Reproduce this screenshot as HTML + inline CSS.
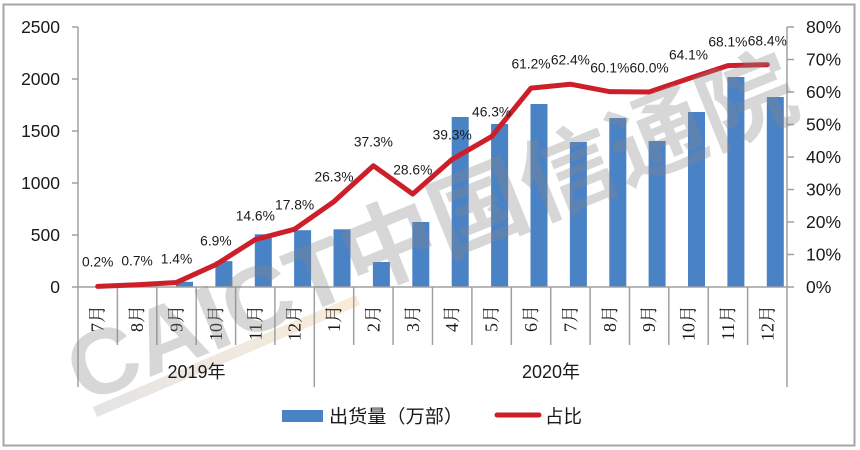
<!DOCTYPE html>
<html><head><meta charset="utf-8"><style>
html,body{margin:0;padding:0;background:#fff;}
svg{display:block;}
</style></head><body>
<svg width="860" height="450" viewBox="0 0 860 450" xmlns="http://www.w3.org/2000/svg">
<defs>
<linearGradient id="ul" x1="0" y1="0" x2="1" y2="0">
<stop offset="0" stop-color="#cfcfcf"/>
<stop offset="0.6" stop-color="#e8d8c4"/>
<stop offset="1" stop-color="#f6dcb8"/>
</linearGradient>
</defs>
<rect x="0" y="0" width="860" height="450" fill="#fff"/>
<rect x="3.5" y="4.5" width="851" height="441" fill="#fff" stroke="#a6a6a6" stroke-width="2"/>

<!-- watermark underline -->
<line x1="95" y1="412" x2="358" y2="300" stroke="url(#ul)" stroke-width="11" opacity="0.55"/>

<!-- bars -->
<g fill="#4a82c6">
<rect x="97.2" y="286.6" width="17" height="0.4"/>
<rect x="136.6" y="286.4" width="17" height="0.6"/>
<rect x="176.0" y="281.8" width="17" height="5.2"/>
<rect x="215.4" y="261.1" width="17" height="25.9"/>
<rect x="254.8" y="234.3" width="17" height="52.7"/>
<rect x="294.1" y="230.2" width="17" height="56.8"/>
<rect x="333.5" y="229.3" width="17" height="57.7"/>
<rect x="372.9" y="262.0" width="17" height="25.0"/>
<rect x="412.3" y="222.0" width="17" height="65.0"/>
<rect x="451.7" y="117.0" width="17" height="170.0"/>
<rect x="491.1" y="124.0" width="17" height="163.0"/>
<rect x="530.5" y="104.0" width="17" height="183.0"/>
<rect x="569.9" y="142.0" width="17" height="145.0"/>
<rect x="609.3" y="118.0" width="17" height="169.0"/>
<rect x="648.6" y="141.0" width="17" height="146.0"/>
<rect x="688.0" y="112.0" width="17" height="175.0"/>
<rect x="727.4" y="77.0" width="17" height="210.0"/>
<rect x="766.8" y="97.0" width="17" height="190.0"/>
</g>

<!-- axes -->
<g stroke="#a0a0a0" stroke-width="1.5" fill="none">
<line x1="78" y1="27" x2="78" y2="287"/>
<line x1="72" y1="27" x2="78" y2="27"/>
<line x1="72" y1="79" x2="78" y2="79"/>
<line x1="72" y1="131" x2="78" y2="131"/>
<line x1="72" y1="183" x2="78" y2="183"/>
<line x1="72" y1="235" x2="78" y2="235"/>
<line x1="72" y1="287" x2="78" y2="287"/>
<line x1="787" y1="27" x2="787" y2="287"/>
<line x1="787" y1="27" x2="794" y2="27"/>
<line x1="787" y1="59.5" x2="794" y2="59.5"/>
<line x1="787" y1="92" x2="794" y2="92"/>
<line x1="787" y1="124.5" x2="794" y2="124.5"/>
<line x1="787" y1="157" x2="794" y2="157"/>
<line x1="787" y1="189.5" x2="794" y2="189.5"/>
<line x1="787" y1="222" x2="794" y2="222"/>
<line x1="787" y1="254.5" x2="794" y2="254.5"/>
<line x1="787" y1="287" x2="794" y2="287"/>
<line x1="78" y1="287" x2="787" y2="287"/>
<line x1="78" y1="287" x2="78" y2="387"/>
<line x1="117.4" y1="287" x2="117.4" y2="345"/>
<line x1="156.8" y1="287" x2="156.8" y2="345"/>
<line x1="196.2" y1="287" x2="196.2" y2="345"/>
<line x1="235.6" y1="287" x2="235.6" y2="345"/>
<line x1="274.9" y1="287" x2="274.9" y2="345"/>
<line x1="314.3" y1="287" x2="314.3" y2="387"/>
<line x1="353.7" y1="287" x2="353.7" y2="345"/>
<line x1="393.1" y1="287" x2="393.1" y2="345"/>
<line x1="432.5" y1="287" x2="432.5" y2="345"/>
<line x1="471.9" y1="287" x2="471.9" y2="345"/>
<line x1="511.3" y1="287" x2="511.3" y2="345"/>
<line x1="550.7" y1="287" x2="550.7" y2="345"/>
<line x1="590.1" y1="287" x2="590.1" y2="345"/>
<line x1="629.5" y1="287" x2="629.5" y2="345"/>
<line x1="668.8" y1="287" x2="668.8" y2="345"/>
<line x1="708.2" y1="287" x2="708.2" y2="345"/>
<line x1="747.6" y1="287" x2="747.6" y2="345"/>
<line x1="787" y1="287" x2="787" y2="387"/>
</g>

<!-- line series -->
<polyline fill="none" stroke="#cd1f2a" stroke-width="5" stroke-linejoin="round" stroke-linecap="round"
points="97.7,286.35 137.1,284.73 176.5,282.45 215.9,264.58 255.3,239.55 294.6,229.15 334.0,201.53 373.4,165.78 412.8,194.05 452.2,159.28 491.6,136.53 531.0,88.1 570.4,84.2 609.8,91.68 649.1,92 688.5,78.68 727.9,65.68 767.3,64.7"/>

<!-- left tick labels -->
<g font-family="Liberation Sans, sans-serif" font-size="17.5" fill="#1a1a1a" text-anchor="end" dominant-baseline="central">
<text x="60" y="27">2500</text>
<text x="60" y="79">2000</text>
<text x="60" y="131">1500</text>
<text x="60" y="183">1000</text>
<text x="60" y="235">500</text>
<text x="60" y="287">0</text>
</g>
<g font-family="Liberation Sans, sans-serif" font-size="17.5" fill="#1a1a1a" text-anchor="start" dominant-baseline="central">
<text x="806" y="27">80%</text>
<text x="806" y="59.5">70%</text>
<text x="806" y="92">60%</text>
<text x="806" y="124.5">50%</text>
<text x="806" y="157">40%</text>
<text x="806" y="189.5">30%</text>
<text x="806" y="222">20%</text>
<text x="806" y="254.5">10%</text>
<text x="806" y="287">0%</text>
</g>

<!-- data labels -->
<g font-family="Liberation Sans, sans-serif" font-size="13.8" fill="#1a1a1a" text-anchor="middle" dominant-baseline="central">
<text x="97.7" y="262">0.2%</text>
<text x="137.1" y="261">0.7%</text>
<text x="176.5" y="259">1.4%</text>
<text x="215.9" y="241">6.9%</text>
<text x="255.3" y="216">14.6%</text>
<text x="294.6" y="205">17.8%</text>
<text x="334.0" y="177">26.3%</text>
<text x="373.4" y="142">37.3%</text>
<text x="412.8" y="170">28.6%</text>
<text x="452.2" y="135">39.3%</text>
<text x="491.6" y="112">46.3%</text>
<text x="531.0" y="64">61.2%</text>
<text x="570.4" y="60">62.4%</text>
<text x="609.8" y="68">60.1%</text>
<text x="649.1" y="68">60.0%</text>
<text x="688.5" y="55">64.1%</text>
<text x="727.9" y="42">68.1%</text>
<text x="767.3" y="41">68.4%</text>
</g>

<!-- month labels -->
<g font-family="Liberation Serif, 'Noto Serif CJK SC', serif" font-size="18" fill="#1a1a1a" text-anchor="end" dominant-baseline="central">
<text transform="translate(97.7,305) rotate(-90)">7月</text>
<text transform="translate(137.1,305) rotate(-90)">8月</text>
<text transform="translate(176.5,305) rotate(-90)">9月</text>
<text transform="translate(215.9,305) rotate(-90)">10月</text>
<text transform="translate(255.3,305) rotate(-90)">11月</text>
<text transform="translate(294.6,305) rotate(-90)">12月</text>
<text transform="translate(334.0,305) rotate(-90)">1月</text>
<text transform="translate(373.4,305) rotate(-90)">2月</text>
<text transform="translate(412.8,305) rotate(-90)">3月</text>
<text transform="translate(452.2,305) rotate(-90)">4月</text>
<text transform="translate(491.6,305) rotate(-90)">5月</text>
<text transform="translate(531.0,305) rotate(-90)">6月</text>
<text transform="translate(570.4,305) rotate(-90)">7月</text>
<text transform="translate(609.8,305) rotate(-90)">8月</text>
<text transform="translate(649.1,305) rotate(-90)">9月</text>
<text transform="translate(688.5,305) rotate(-90)">10月</text>
<text transform="translate(727.9,305) rotate(-90)">11月</text>
<text transform="translate(767.3,305) rotate(-90)">12月</text>
</g>

<!-- year labels -->
<g font-family="Liberation Sans, 'Noto Sans CJK SC', sans-serif" font-size="18" fill="#1a1a1a" text-anchor="middle" dominant-baseline="central">
<text x="196.5" y="372">2019年</text>
<text x="551" y="372">2020年</text>
</g>

<!-- legend -->
<rect x="282" y="410" width="41" height="12" fill="#4a82c6"/>
<text x="329" y="416" font-family="'Noto Sans CJK SC', sans-serif" font-size="18.5" fill="#1a1a1a" dominant-baseline="central" textLength="134" lengthAdjust="spacingAndGlyphs">出货量（万部）</text>
<line x1="497" y1="415" x2="539" y2="415" stroke="#cd1f2a" stroke-width="5" stroke-linecap="round"/>
<text x="545" y="416" font-family="'Noto Sans CJK SC', sans-serif" font-size="18.5" fill="#1a1a1a" dominant-baseline="central">占比</text>

<!-- watermark -->
<text transform="translate(83,404) rotate(-22)" font-family="Liberation Sans, 'Noto Sans CJK SC', sans-serif" font-size="92" font-weight="bold" fill="#888888" opacity="0.33" textLength="777" lengthAdjust="spacingAndGlyphs">CAICT中国信通院</text>
</svg>
</body></html>
